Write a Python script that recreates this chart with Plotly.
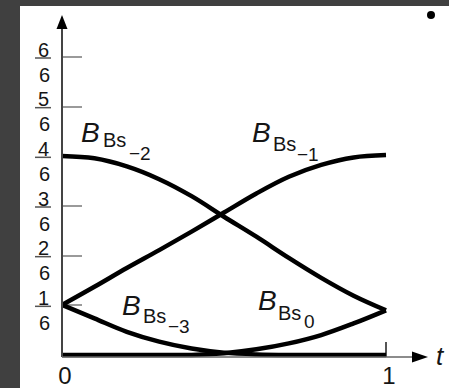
import plotly.graph_objects as go

# Parameter values and the four uniform cubic B-spline basis curves
t = [0.0, 0.1, 0.2, 0.3, 0.4, 0.5, 0.6, 0.7, 0.8, 0.9, 1.0]
b_m3 = [0.168, 0.123, 0.078, 0.045, 0.022, 0.008, 0.002, 0.0, 0.0, 0.0, 0.0]
b_m2 = [0.668, 0.660, 0.633, 0.590, 0.533, 0.464, 0.397, 0.326, 0.259, 0.199, 0.150]
b_m1 = [0.168, 0.229, 0.292, 0.352, 0.414, 0.478, 0.542, 0.598, 0.638, 0.663, 0.671]
b_0 = [0.0, 0.0, 0.0, 0.0, 0.0, 0.006, 0.019, 0.039, 0.067, 0.106, 0.150]

# y-axis ticks shown as fractions k/6
y_numerators = ["1", "2", "3", "4", "5", "6"]
y_denominators = ["6", "6", "6", "6", "6", "6"]
y_ticks = [int(n) / int(d) for n, d in zip(y_numerators, y_denominators)]

x_ticks = [0, 1]
x_ticktext = ["0", "1"]

# curve labels: (index subscript, B position, "Bs" position, index position) in pixels
curve_labels = [
    ("\u22122", (90, 132), (114, 140), (140, 153)),
    ("\u22121", (261, 132), (284, 144), (308, 154)),
    ("\u22123", (131, 305), (154, 316), (179, 326)),
    ("0", (267, 300), (289, 313), (309, 321)),
]

W, H = 449, 388
ML, MT = 20, 6
X0_PX, X_SCALE = 62, 324      # pixel of t=0, pixels per unit t
Y0_PX, Y_SCALE = 355, 298     # pixel of value 0, pixels per unit value


def dx(px):
    return (px - X0_PX) / X_SCALE


def dy(py):
    return (Y0_PX - py) / Y_SCALE


TEXT = "#151515"
FONT = "Liberation Sans, Arial, sans-serif"

fig = go.Figure()
for ys in (b_m3, b_m2, b_m1, b_0):
    fig.add_trace(go.Scatter(
        x=t, y=ys, mode="lines",
        line=dict(color="black", width=4.5, shape="spline", smoothing=1.0),
        hoverinfo="skip",
    ))

plot_w = W - ML
plot_h = H - MT

fig.update_layout(
    width=W, height=H,
    margin=dict(l=ML, r=0, t=MT, b=0, pad=0, autoexpand=False),
    paper_bgcolor="#404040",
    plot_bgcolor="white",
    showlegend=False,
    xaxis=dict(
        range=[dx(ML), dx(W)], automargin=False,
        anchor="free", position=(H - 357) / plot_h,
        showgrid=False, zeroline=False, showline=False,
        tickvals=x_ticks, ticktext=x_ticktext,
        ticks="inside", ticklen=15, tickwidth=1.5, tickcolor="#555555",
        tickfont=dict(family=FONT, size=24, color=TEXT),
        ticklabelstandoff=2, ticklabelshift=3,
        layer="below traces",
    ),
    yaxis=dict(
        range=[dy(H), dy(MT)], automargin=False,
        anchor="free", position=(X0_PX - ML) / plot_w,
        showgrid=False, zeroline=False, showline=False,
        tickvals=y_ticks, showticklabels=False,
        ticks="inside", ticklen=19, tickwidth=2, tickcolor="#9a9a9a",
        layer="below traces",
    ),
)

shapes = []
# y axis with arrow head
shapes.append(dict(type="line", xref="x", yref="y", x0=0, x1=0, y0=dy(357), y1=dy(26),
                   line=dict(color="#444444", width=2)))
shapes.append(dict(type="path", xref="x", yref="y",
                   path=f"M {dx(62)} {dy(15)} L {dx(56.5)} {dy(29)} L {dx(67.5)} {dy(29)} Z",
                   fillcolor="black", line=dict(width=0)))
# x axis with arrow head
shapes.append(dict(type="line", xref="x", yref="y", x0=0, x1=dx(414), y0=dy(357), y1=dy(357),
                   line=dict(color="#666666", width=1.5)))
shapes.append(dict(type="path", xref="x", yref="y",
                   path=f"M {dx(428)} {dy(357)} L {dx(412)} {dy(351.5)} L {dx(412)} {dy(362.5)} Z",
                   fillcolor="black", line=dict(width=0)))
# fraction bars of the y tick labels
for v in y_ticks:
    shapes.append(dict(type="line", xref="x", yref="y", x0=dx(35), x1=dx(51),
                       y0=v - 1 / Y_SCALE, y1=v - 1 / Y_SCALE,
                       line=dict(color="#555555", width=1.5)))
# bullet in the upper right corner
shapes.append(dict(type="circle", xref="x", yref="y",
                   x0=dx(427), x1=dx(435), y0=dy(19), y1=dy(11),
                   fillcolor="black", line=dict(width=0)))
fig.update_layout(shapes=shapes)

ann = []
for num, den, v in zip(y_numerators, y_denominators, y_ticks):
    ann.append(dict(x=dx(43.5), y=v + 7.5 / Y_SCALE, text=num, showarrow=False,
                    xanchor="center", yanchor="middle",
                    font=dict(family=FONT, size=20, color=TEXT)))
    ann.append(dict(x=dx(44), y=v - 17.5 / Y_SCALE, text=den, showarrow=False,
                    xanchor="center", yanchor="middle",
                    font=dict(family=FONT, size=20, color=TEXT)))

for idx, pb, pbs, pi in curve_labels:
    ann.append(dict(x=dx(pb[0]), y=dy(pb[1]), text="<i>B</i>", showarrow=False,
                    xanchor="center", yanchor="middle",
                    font=dict(family=FONT, size=28, color=TEXT)))
    ann.append(dict(x=dx(pbs[0]), y=dy(pbs[1]), text="Bs", showarrow=False,
                    xanchor="center", yanchor="middle",
                    font=dict(family=FONT, size=20, color=TEXT)))
    ann.append(dict(x=dx(pi[0]), y=dy(pi[1]), text=idx, showarrow=False,
                    xanchor="center", yanchor="middle",
                    font=dict(family=FONT, size=19, color=TEXT)))

ann.append(dict(x=dx(440), y=dy(356), text="<i>t</i>", showarrow=False,
                xanchor="center", yanchor="middle",
                font=dict(family=FONT, size=26, color=TEXT)))
fig.update_layout(annotations=ann)

fig.write_html("out.html")
